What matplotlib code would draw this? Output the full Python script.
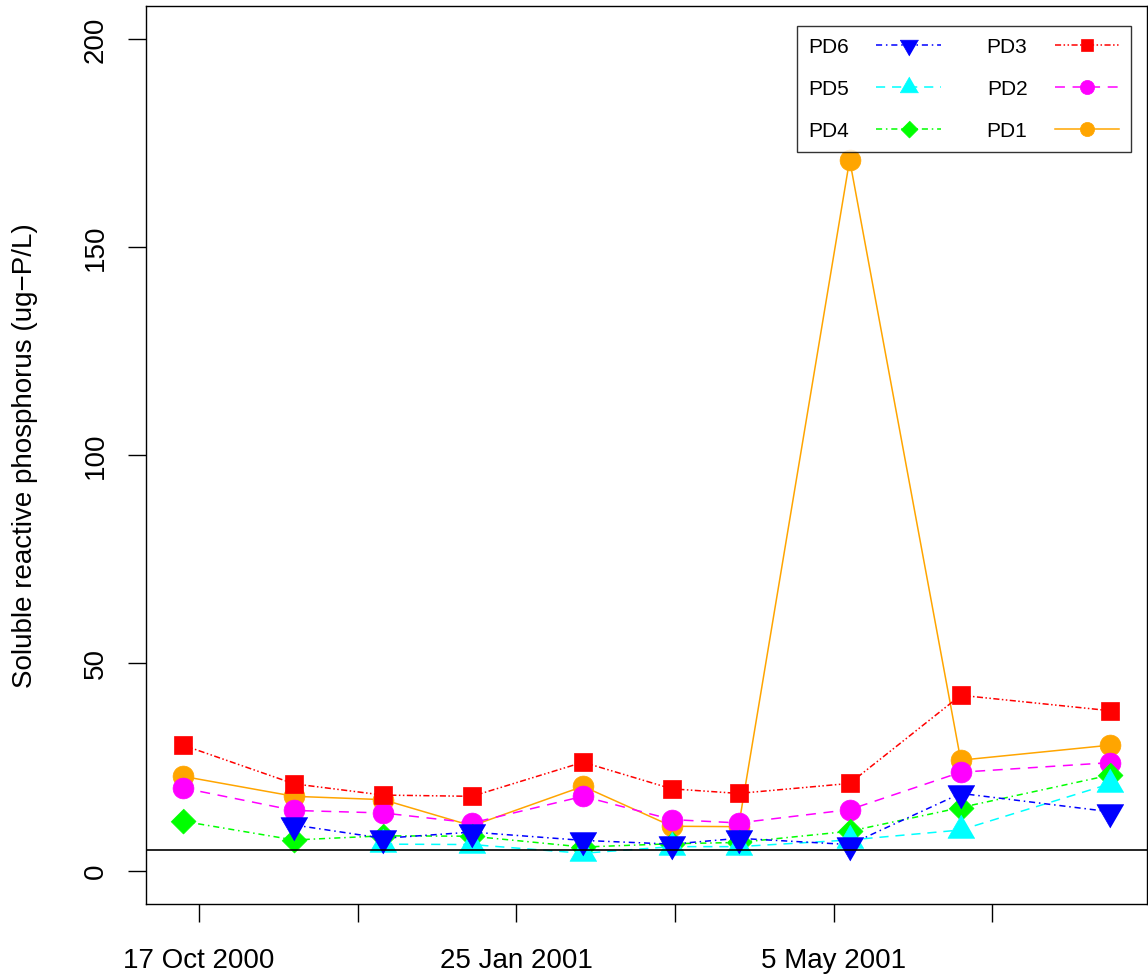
import numpy as np
import pandas as pd
import matplotlib
matplotlib.use('Agg')
import matplotlib.pyplot as plt
import matplotlib.dates as mdates

plt.rcParams['font.family'] = ['Liberation Sans', 'DejaVu Sans']

# sampling dates
dates = pd.to_datetime(['2000-10-12', '2000-11-16', '2000-12-14', '2001-01-11', '2001-02-15',
                        '2001-03-15', '2001-04-05', '2001-05-10', '2001-06-14', '2001-07-31'])

nan = np.nan
pd1 = [22.7, 17.9, 17.1, 10.8, 20.3, 10.7, 10.6, 171.0, 26.6, 30.2]
pd2 = [19.9, 14.5, 13.9, 11.5, 17.9, 12.3, 11.5, 14.7, 23.7, 26.0]
pd3 = [30.2, 20.9, 18.2, 17.9, 26.1, 19.7, 18.6, 21.0, 42.2, 38.5]
pd4 = [11.9, 7.4, 8.4, 8.3, 5.7, 6.5, 6.8, 9.5, 15.2, 23.0]
pd5 = [nan, nan, 6.4, 6.3, 4.2, 5.8, 5.8, 7.4, 9.8, 20.9]
pd6 = [nan, 11.0, 7.8, 9.3, 7.3, 6.4, 7.8, 6.3, 18.6, 14.2]

tick_dates = pd.to_datetime(['2000-10-17', '2000-12-06', '2001-01-25',
                             '2001-03-16', '2001-05-05', '2001-06-24'])
tick_labels = ['17 Oct 2000', '', '25 Jan 2001', '', '5 May 2001', '']
yticks = [0, 50, 100, 150, 200]
ref_level = 5

# marker shapes centred on the centroid (like R)
tri_up = [(0, 1), (-0.866, -0.5), (0.866, -0.5)]
tri_dn = [(0, -1), (-0.866, 0.5), (0.866, 0.5)]
diamond = [(0, 1), (1, 0), (0, -1), (-1, 0)]

series = [
    ('PD1', pd1, '#FFA500', '-', 'o', 15),
    ('PD2', pd2, '#FF00FF', (0, (6.5, 5)), 'o', 15),
    ('PD3', pd3, '#FF0000', (0, (4, 1.6, 1, 1.6, 1, 1.6)), 's', 13),
    ('PD4', pd4, '#00FF00', (0, (4, 2.5, 1, 2.5)), diamond, 18),
    ('PD5', pd5, '#00FFFF', (0, (6, 4.5)), tri_up, 22.4),
    ('PD6', pd6, '#0000FF', (0, (4, 2.5, 1, 2.5)), tri_dn, 22.4),
]

fig = plt.figure(figsize=(11.48, 9.79), dpi=100)
ax = fig.add_axes([146 / 1148, 1 - 905 / 979, (1147 - 146) / 1148, (905 - 7) / 979])

handles = {}
for name, vals, col, ls, mk, ms in series:
    h, = ax.plot(dates, vals, color=col, linestyle=ls, linewidth=1.1,
                 marker=mk, markersize=ms, markerfacecolor=col,
                 markeredgecolor=col, markeredgewidth=0.5, label=name)
    handles[name] = h

ax.axhline(ref_level, color='black', linewidth=1.2)

x0 = mdates.date2num(dates.min())
x1 = mdates.date2num(dates.max())
dx = 0.04 * (x1 - x0)
ax.set_xlim(x0 - dx, x1 + dx)
ax.set_ylim(-8, 208)

ax.set_xticks(tick_dates)
ax.set_xticklabels(tick_labels)
ax.set_yticks(yticks)
ax.tick_params(axis='x', length=13, width=1, pad=18, labelsize=20)
ax.tick_params(axis='y', length=13, width=1, pad=14, labelsize=20, labelrotation=90)
for lbl in ax.get_yticklabels():
    lbl.set_va('center')
for sp in ax.spines.values():
    sp.set_linewidth(1.0)

fig.text(25 / 1148, 1 - 456 / 979, 'Soluble reactive phosphorus (ug\u2212P/L)',
         rotation=90, ha='center', va='center', fontsize=20)

order = ['PD6', 'PD5', 'PD4', 'PD3', 'PD2', 'PD1']
leg = ax.legend([handles[k] for k in order], order, ncol=2, loc='upper left',
                bbox_to_anchor=(797 / 1148, 1 - 27 / 979), bbox_transform=fig.transFigure,
                borderaxespad=0, fontsize=15, markerfirst=False, handlelength=3.1,
                handletextpad=1.3, columnspacing=2.2, labelspacing=1.1, borderpad=0.55,
                frameon=True, fancybox=False, edgecolor='black', markerscale=0.68)
leg.get_frame().set_linewidth(1.0)

plt.savefig('out.png', dpi=100)
